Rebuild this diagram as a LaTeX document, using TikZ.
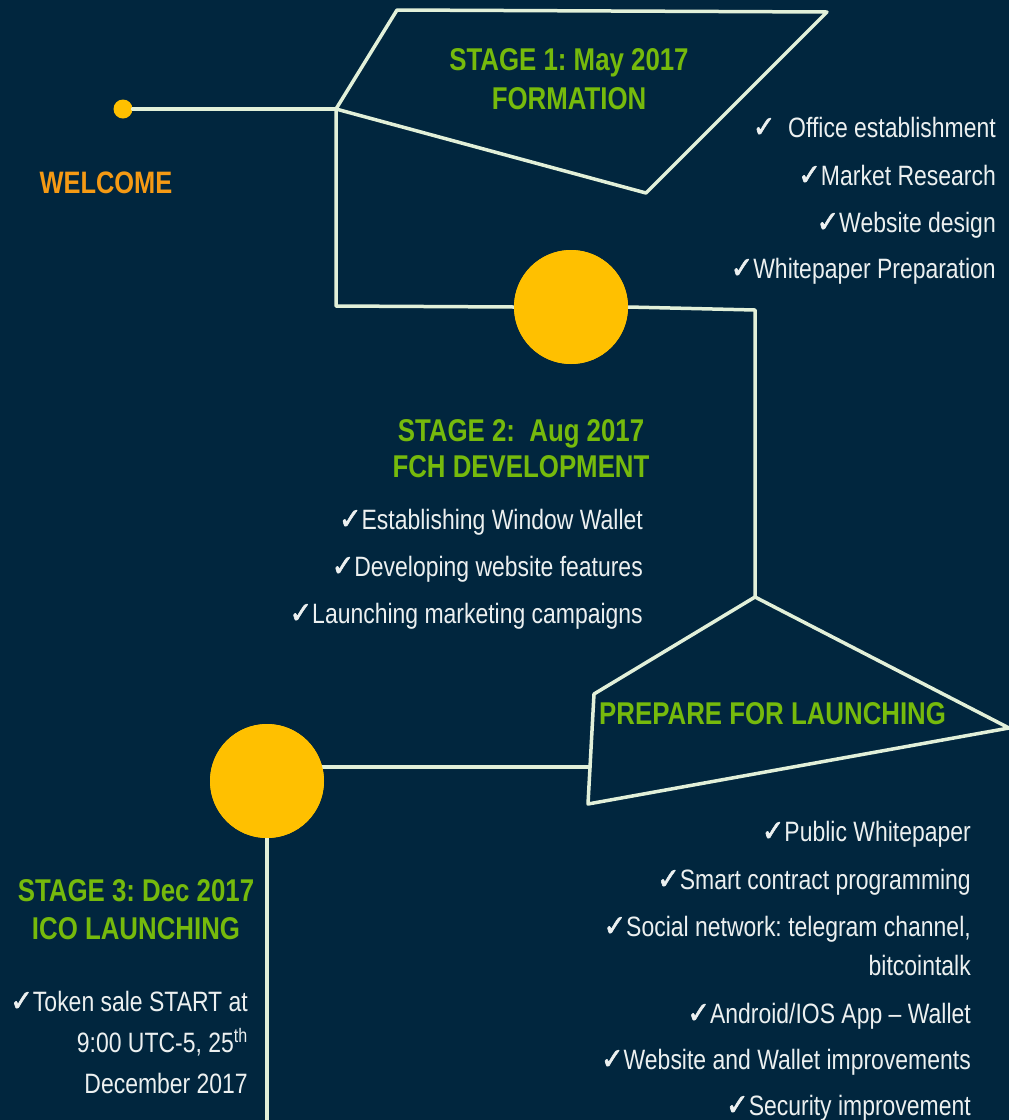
\documentclass[tikz,border=0pt]{standalone}
\usepackage{fontspec}
\setmainfont{Liberation Sans}[FakeStretch=0.82]
\newfontfamily\chkfont{DejaVu Sans}[FakeStretch=0.9, FakeBold=2]
\newcommand\ck{{\chkfont\fontsize{30}{32}\selectfont ✓}}
\frenchspacing
\definecolor{bgC}{RGB}{1,38,62}
\definecolor{lineC}{RGB}{226,240,217}
\definecolor{yelC}{RGB}{255,192,0}
\definecolor{grnC}{RGB}{118,186,12}
\definecolor{orgC}{RGB}{245,154,20}
\definecolor{txtC}{RGB}{236,240,240}
\begin{document}
\begin{tikzpicture}[x=1pt,y=-1pt,
  conn/.style={draw=lineC, line width=3.5pt, line join=round, line cap=round},
  bigdot/.style={circle, fill=yelC, minimum size=114pt, inner sep=0pt},
  title/.style={text=grnC, font=\fontsize{31.5}{36}\selectfont\bfseries, inner sep=0pt, anchor=base},
  item/.style={text=txtC, font=\fontsize{28}{32}\selectfont, inner sep=0pt, anchor=base east}]
\fill[bgC] (0,0) rectangle (1009,1120);
\useasboundingbox (0,0) rectangle (1009,1120);

% coordinates of the path
\coordinate (j1) at (336,109);
\coordinate (p1tl) at (397,10);
\coordinate (p1tr) at (827,12);
\coordinate (p1b) at (646,193);
\coordinate (j2) at (336,306);
\coordinate (j3) at (755,310);
\coordinate (p2t) at (755,597);
\coordinate (p2r) at (1009,728);
\coordinate (p2bl) at (588,804);
\coordinate (p2tl) at (594,694);
\coordinate (j4) at (590,767);
\coordinate (endb) at (267,1125);

\node[circle, fill=yelC, minimum size=19pt, inner sep=0pt] (dot) at (123,109) {};
\node[bigdot] (c1) at (571,307) {};
\node[bigdot] (c2) at (267,781) {};

\draw[conn] (dot) -- (j1);
\draw[conn] (j1) -- (p1tl) -- (p1tr) -- (p1b) -- cycle;
\draw[conn] (j1) -- (j2) -- (c1.west);
\draw[conn] (c1.east) -- (j3) -- (p2t);
\draw[conn] (p2t) -- (p2r) -- (p2bl) -- (p2tl) -- cycle;
\draw[conn] (j4) -- (j4 -| c2);
\draw[conn] (c2.south) -- (endb);

% circles on top of the connectors
\node[bigdot] at (c1) {};
\node[bigdot] at (c2) {};

% texts
\node[text=orgC, font=\fontsize{31}{36}\selectfont\bfseries, inner sep=0pt, anchor=base] (welcome) at (106,193) {WELCOME};

\node[title] (s1a) at (569,70) {STAGE 1: May 2017};
\node[title] (s1b) at (569,109) {FORMATION};

\node[item] (l1a) at (996,137) {\ck\ \ Office establishment};
\node[item] (l1b) at (996,185) {\ck Market Research};
\node[item] (l1c) at (996,232) {\ck Website design};
\node[item] (l1d) at (996,278) {\ck Whitepaper Preparation};

\node[title] (s2a) at (521,441) {STAGE 2: \ Aug 2017};
\node[title] (s2b) at (521,477) {FCH DEVELOPMENT};

\node[item] (l2a) at (643,529) {\ck Establishing Window Wallet};
\node[item] (l2b) at (643,576) {\ck Developing website features};
\node[item] (l2c) at (643,623) {\ck Launching marketing campaigns};

\node[title, anchor=base west] (prep) at (599,724) {PREPARE FOR LAUNCHING};

\node[item] (l3a) at (971,841) {\ck Public Whitepaper};
\node[item] (l3b) at (971,889) {\ck Smart contract programming};
\node[item] (l3c) at (971,936) {\ck Social network: telegram channel,};
\node[item] (l3d) at (971,975) {bitcointalk};
\node[item] (l3e) at (971,1023) {\ck Android/IOS App – Wallet};
\node[item] (l3f) at (971,1069) {\ck Website and Wallet improvements};
\node[item] (l3g) at (971,1115) {\ck Security improvement};

\node[title] (s3a) at (136,901) {STAGE 3: Dec 2017};
\node[title] (s3b) at (136,939) {ICO LAUNCHING};

\node[item] (t1) at (248,1011) {\ck Token sale START at};
\node[item] (t2) at (248,1052) {9:00 UTC-5, 25\textsuperscript{th}};
\node[item] (t3) at (248,1093) {December 2017};
\end{tikzpicture}
\end{document}
